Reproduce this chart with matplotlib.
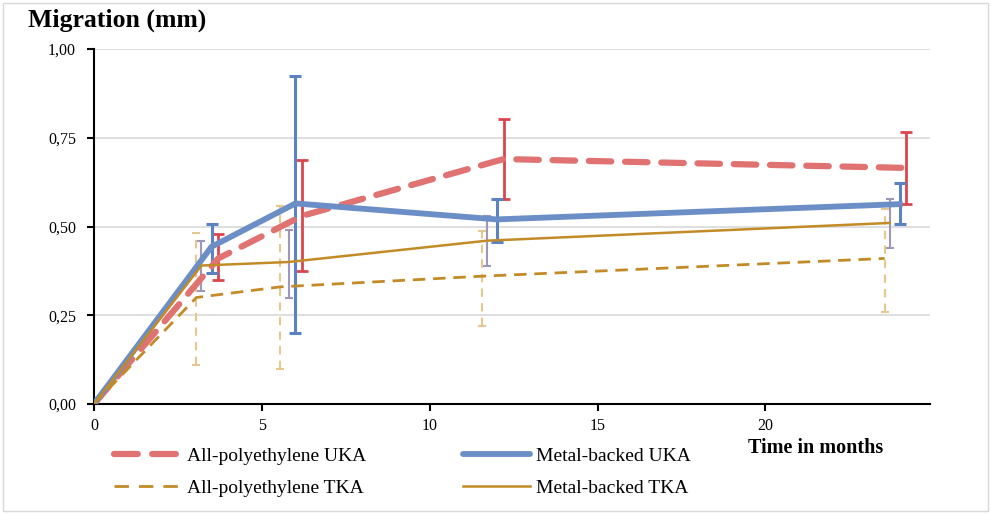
import matplotlib
matplotlib.use("Agg")
import matplotlib.pyplot as plt
from matplotlib.lines import Line2D
from matplotlib.patches import Rectangle

# Data (time in months, migration in mm)
names = ["All-polyethylene UKA", "Metal-backed UKA", "All-polyethylene TKA", "Metal-backed TKA"]
ap_uka_x = [0, 3.7, 6.2, 12.2, 24.2]
ap_uka_y = [0.0, 0.41, 0.53, 0.69, 0.665]
ap_uka_lo = [0.0, 0.349, 0.375, 0.577, 0.563]
ap_uka_hi = [0.0, 0.478, 0.687, 0.802, 0.767]

mb_uka_x = [0, 3.5, 6.0, 12.0, 24.0]
mb_uka_y = [0.0, 0.443, 0.565, 0.52, 0.563]
mb_uka_lo = [0.0, 0.37, 0.201, 0.457, 0.506]
mb_uka_hi = [0.0, 0.507, 0.925, 0.577, 0.623]

ap_tka_x = [0, 3.05, 5.55, 11.55, 23.55]
ap_tka_y = [0.0, 0.30, 0.33, 0.36, 0.41]
ap_tka_lo = [0.0, 0.11, 0.10, 0.22, 0.259]
ap_tka_hi = [0.0, 0.481, 0.559, 0.488, 0.549]

mb_tka_x = [0, 3.2, 5.8, 11.7, 23.7]
mb_tka_y = [0.0, 0.39, 0.40, 0.46, 0.51]
mb_tka_lo = [0.0, 0.319, 0.30, 0.39, 0.44]
mb_tka_hi = [0.0, 0.459, 0.489, 0.53, 0.577]

yticks = [0.0, 0.25, 0.5, 0.75, 1.0]
ytick_labels = ["0,00", "0,25", "0,50", "0,75", "1,00"]
xticks = [0, 5, 10, 15, 20]

c_red_line = "#E07272"
c_red_err = "#D9474D"
c_blue_line = "#6B8EC6"
c_blue_err = "#5B83C3"
c_gold = "#C28B27"
c_gold_err = "#E6C88F"
c_purple = "#A096BC"

serif = ["Liberation Serif", "DejaVu Serif"]
plt.rcParams["font.family"] = serif

W, H = 991, 514
fig = plt.figure(figsize=(W / 100, H / 100), dpi=100)
fig.patches.append(Rectangle((3 / W, 3 / H), (W - 6) / W, (H - 6) / H, transform=fig.transFigure,
                             fill=False, edgecolor="#D9D9D9", linewidth=1.0))

ax = fig.add_axes([94 / W, 1 - 404 / H, (930 - 94) / W, (404 - 49) / H])


def errs(x, y, lo, hi):
    xs, ys, el, eh = [], [], [], []
    for xi, yi, l, h in zip(x, y, lo, hi):
        if h > l:
            xs.append(xi); ys.append(yi); el.append(yi - l); eh.append(h - yi)
    return xs, ys, [el, eh]


# error bars
for (x, y, lo, hi, col, lw, cs, ls) in [
    (ap_tka_x, ap_tka_y, ap_tka_lo, ap_tka_hi, c_gold_err, 1.5, 3.0, "--"),
    (mb_tka_x, mb_tka_y, mb_tka_lo, mb_tka_hi, c_purple, 1.5, 3.2, "-"),
    (ap_uka_x, ap_uka_y, ap_uka_lo, ap_uka_hi, c_red_err, 2.0, 4.0, "-"),
    (mb_uka_x, mb_uka_y, mb_uka_lo, mb_uka_hi, c_blue_err, 2.2, 4.2, "-"),
]:
    xs, ys, e = errs(x, y, lo, hi)
    eb = ax.errorbar(xs, ys, yerr=e, fmt="none", ecolor=col, elinewidth=lw, capsize=cs,
                     capthick=lw, zorder=2)
    if ls != "-":
        eb[2][0].set_linestyle((0, (4, 3)))

ax.plot(ap_uka_x, ap_uka_y, color=c_red_line, lw=4.5, dashes=(3.6, 2.2), dash_capstyle="round",
        solid_capstyle="round", zorder=3)
ax.plot(mb_uka_x, mb_uka_y, color=c_blue_line, lw=4.2, zorder=4)
ax.plot(ap_tka_x, ap_tka_y, color=c_gold, lw=2.0, dashes=(4.5, 2.8), zorder=5)
ax.plot(mb_tka_x, mb_tka_y, color=c_gold, lw=1.8, zorder=6)

ax.set_xlim(0, 24.9)
ax.set_ylim(0, 1.0)
ax.set_yticks(yticks)
ax.set_yticklabels(ytick_labels)
ax.set_xticks(xticks)
ax.set_xticklabels([str(t) for t in xticks])
ax.tick_params(axis="both", labelsize=11.5, direction="out", length=5, width=1.5, color="black")
ax.tick_params(axis="y", pad=8)
ax.tick_params(axis="x", pad=5)
ax.grid(axis="y", color="#D9D9D9", lw=1.2)
ax.set_axisbelow(True)
for s in ["top", "right"]:
    ax.spines[s].set_visible(False)
for s in ["left", "bottom"]:
    ax.spines[s].set_linewidth(1.5)
    ax.spines[s].set_color("black")

fig.text(28 / W, 1 - 20 / H, "Migration (mm)", fontsize=18.5, fontweight="bold", va="center", ha="left")
fig.text(883 / W, 1 - 448 / H, "Time in months", fontsize=14.5, fontweight="bold", va="center", ha="right")

handles = [
    Line2D([], [], color=c_red_line, lw=4.5, dashes=(3.8, 2.3), dash_capstyle="round"),
    Line2D([], [], color=c_gold, lw=2.0, dashes=(5.2, 3.6)),
    Line2D([], [], color=c_blue_line, lw=4.2, solid_capstyle="round"),
    Line2D([], [], color=c_gold, lw=1.8),
]
labels = [names[0], names[2], names[1], names[3]]
fig.legend(handles, labels, ncol=2, loc="center left", bbox_to_anchor=(100 / W, 1 - 472 / H),
           frameon=False, fontsize=14, handlelength=3.45, handletextpad=0.3, columnspacing=5.0,
           labelspacing=0.75, borderpad=0.2)

fig.savefig("out.png", dpi=100)
